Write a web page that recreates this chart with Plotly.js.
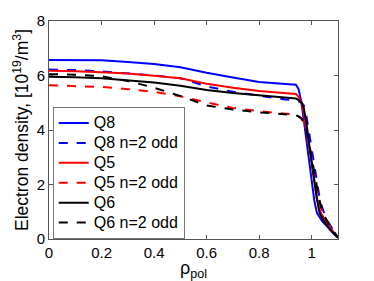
<!DOCTYPE html>
<html>
<head>
<meta charset="utf-8">
<script src="https://cdn.plot.ly/plotly-3.0.1.min.js"></script>
<style>html,body{margin:0;padding:0;background:#fff;}#chart{width:374px;height:281px;}</style>
</head>
<body>
<div id="chart"></div>
<script>
const rho = [0,0.1,0.2,0.3,0.4,0.5,0.6,0.7,0.8,0.9,0.94,0.95,0.96,0.97,0.98,0.99,1.0,1.01,1.02,1.03,1.04,1.05,1.07,1.09,1.1];
const q8      = [6.57,6.57,6.56,6.5,6.42,6.3,6.1,5.93,5.76,5.69,5.66,5.5,5.05,4.35,3.6,2.8,2.0,1.4,0.95,0.78,0.66,0.55,0.33,0.13,0.05];
const q8odd   = [6.22,6.2,6.15,6.08,6.0,5.9,5.6,5.4,5.25,5.12,5.08,5.06,5.02,4.9,4.5,3.9,3.3,2.7,2.0,1.5,1.15,0.88,0.5,0.2,0.08];
const q5      = [6.17,6.16,6.12,6.07,5.99,5.9,5.7,5.55,5.43,5.36,5.32,5.22,5.02,4.62,4.0,3.3,2.6,2.0,1.5,1.05,0.85,0.7,0.42,0.15,0.05];
const q5odd   = [5.64,5.62,5.58,5.5,5.4,5.24,5.01,4.81,4.69,4.6,4.56,4.5,4.42,4.3,4.0,3.5,2.9,2.3,1.75,1.3,1.0,0.8,0.45,0.17,0.06];
const q6      = [5.95,5.94,5.9,5.83,5.74,5.62,5.47,5.36,5.27,5.2,5.16,5.1,5.02,4.8,4.25,3.5,2.8,2.1,1.45,0.95,0.75,0.6,0.35,0.12,0.04];
const q6odd   = [6.05,6.03,5.97,5.8,5.55,5.25,4.9,4.75,4.65,4.57,4.54,4.5,4.43,4.3,4.0,3.5,2.95,2.4,1.85,1.4,1.05,0.82,0.46,0.17,0.06];
const names = ["Q8","Q8 n=2 odd","Q5","Q5 n=2 odd","Q6","Q6 n=2 odd"];
const series = [q8,q8odd,q5,q5odd,q6,q6odd];
const colors = ["#0000ff","#0000ff","#ff0000","#ff0000","#000000","#000000"];
const dashes = ["solid","dash","solid","dash","solid","dash"];

const traces = series.map((ys,i)=>({
  x: rho, y: ys, type:"scatter", mode:"lines",
  name:'<span style="font-size:16px">' + names[i] + '</span>',
  line:{color:colors[i], width:2, dash:dashes[i]}
}));

const font = "Liberation Sans, Arial, Helvetica, sans-serif";
const layout = {
  width:374, height:281,
  margin:{l:49, r:36, t:21, b:42},
  paper_bgcolor:"#fff", plot_bgcolor:"#fff",
  font:{family:font, size:15, color:"#000"},
  showlegend:true,
  legend:{x:0.013, y:0.605, xanchor:"left", yanchor:"top",
    bgcolor:"#fff", bordercolor:"#777", borderwidth:1,
    font:{family:font, size:13, color:"#000"}, tracegroupgap:0, itemwidth:30},
  xaxis:{range:[0,1.1], dtick:0.2, tick0:0, ticks:"inside", ticklen:4, tickcolor:"#555",
    showline:true, linecolor:"#555", linewidth:1, mirror:"ticks", showgrid:false, zeroline:false,
    tickfont:{size:15}, tickformat:"~g", ticklabelstandoff:0,
    title:{text:"ρ<sub>pol</sub>", font:{size:18}, standoff:0}},
  yaxis:{range:[0,8], dtick:2, tick0:0, ticks:"inside", ticklen:4, tickcolor:"#555",
    showline:true, linecolor:"#555", linewidth:1, mirror:"ticks", showgrid:false, zeroline:false,
    tickfont:{size:15},
    title:{text:"Electron density, [10<sup>19</sup>/m<sup>3</sup>]", font:{size:17.5}, standoff:3}}
};
Plotly.newPlot("chart", traces, layout, {displayModeBar:false, staticPlot:true});
</script>
</body>
</html>
